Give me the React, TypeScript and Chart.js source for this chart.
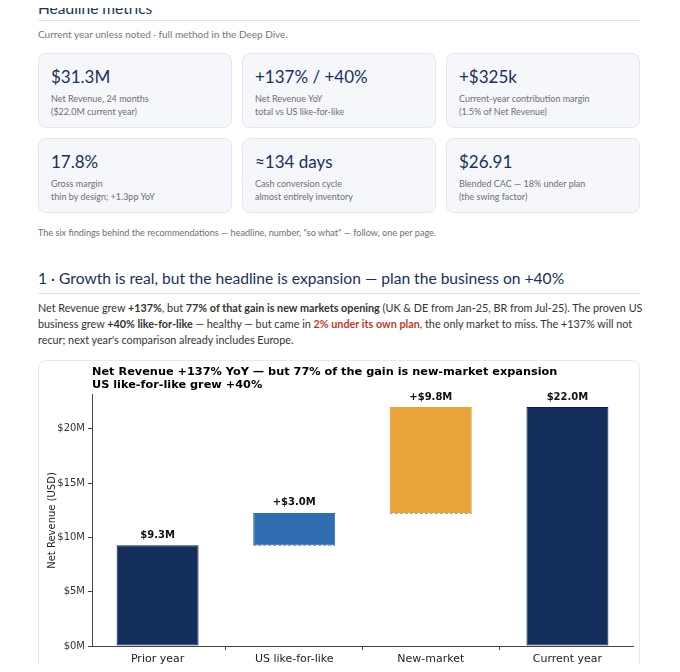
import React, { useEffect, useRef } from "react";
import { Chart, registerables } from "chart.js";

Chart.register(...registerables);

// ---- chart data ----
const categories: string[][] = [
  ["Prior year", "(all markets)"],
  ["US like-for-like", "growth"],
  ["New-market", "expansion"],
  ["Current year", "(all markets)"],
];
const priorYearRevenue = 9.27; // $M
const usLikeForLikeGain = 2.98; // $M
const newMarketGain = 9.75; // $M
const stepKinds = ["total", "delta", "delta", "total"];
const barColors = ["#132d5c", "#2d6db0", "#e8a33b", "#132d5c"];
const barBorders = ["#0c1f44", "#2d6db0", "#e8a33b", "#0c1f44"];
const yTickValues = [0, 5, 10, 15, 20];
const yAxisMax = 23.1;
const xAxisMin = -0.48;
const xAxisMax = 3.48;
const chartTitle = [
  "Net Revenue +137% YoY \u2014 but 77% of the gain is new-market expansion",
  "US like-for-like grew +40%",
];

// ---- headline metrics ----
const metricValues = ["$31.3M", "+137% / +40%", "+$325k", "17.8%", "\u2248134 days", "$26.91"];
const metricLine1 = [
  "Net Revenue, 24 months",
  "Net Revenue YoY",
  "Current-year contribution margin",
  "Gross margin",
  "Cash conversion cycle",
  "Blended CAC \u2014 18% under plan",
];
const metricLine2 = [
  "($22.0M current year)",
  "total vs US like-for-like",
  "(1.5% of Net Revenue)",
  "thin by design; +1.3pp YoY",
  "almost entirely inventory",
  "(the swing factor)",
];

const UI_FONT = 'Lato, "Noto Sans", sans-serif';
const MPL_FONT = '"DejaVu Sans", sans-serif';
const NAVY = "#1b2f5b";

function WaterfallChart() {
  const ref = useRef<HTMLCanvasElement | null>(null);
  useEffect(() => {
    if (!ref.current) return;
    const afterPrior = priorYearRevenue + usLikeForLikeGain;
    const total = afterPrior + newMarketGain;
    const steps = [
      { x: 0, y: [0, priorYearRevenue] },
      { x: 1, y: [priorYearRevenue, afterPrior] },
      { x: 2, y: [afterPrior, total] },
      { x: 3, y: [0, total] },
    ];
    const amounts = [priorYearRevenue, usLikeForLikeGain, newMarketGain, total];
    const labelText = amounts.map((v, i) =>
      (stepKinds[i] === "delta" ? "+" : "") + "$" + v.toFixed(1) + "M"
    );

    const overlay = {
      id: "waterfallOverlay",
      afterDatasetsDraw(chart: any) {
        const ctx = chart.ctx;
        const meta = chart.getDatasetMeta(0);
        ctx.save();
        meta.data.forEach((bar: any, i: number) => {
          const w = bar.width;
          if (stepKinds[i] === "delta") {
            ctx.strokeStyle = "#9aa3b5";
            ctx.lineWidth = 1;
            ctx.setLineDash([3, 2]);
            ctx.beginPath();
            ctx.moveTo(bar.x - w / 2, Math.round(bar.base) + 0.5);
            ctx.lineTo(bar.x + w / 2, Math.round(bar.base) + 0.5);
            ctx.stroke();
            ctx.setLineDash([]);
          }
          ctx.fillStyle = "#111";
          ctx.font = "bold 10px " + MPL_FONT;
          ctx.textAlign = "center";
          ctx.textBaseline = "middle";
          ctx.fillText(labelText[i], bar.x, bar.y - 10);
        });
        ctx.restore();
      },
    };

    const chart = new Chart(ref.current, {
      type: "bar",
      data: {
        datasets: [
          {
            data: steps as any,
            backgroundColor: barColors,
            borderColor: barBorders,
            borderWidth: 1,
            borderSkipped: false,
            categoryPercentage: 1,
            barPercentage: 0.6,
          },
        ],
      },
      options: {
        responsive: true,
        maintainAspectRatio: false,
        animation: false,
        layout: { padding: { left: 5, right: 6, top: 0, bottom: 0 } },
        plugins: {
          legend: { display: false },
          tooltip: { enabled: false },
          title: {
            display: true,
            text: chartTitle,
            align: "start",
            fullSize: false,
            color: "#000",
            font: { family: MPL_FONT, size: 11.3, weight: "bold", lineHeight: 1.15 },
            padding: { top: 5, bottom: 3 },
          },
        },
        scales: {
          x: {
            type: "linear",
            min: xAxisMin,
            max: xAxisMax,
            offset: false,
            grid: {
              display: true,
              drawOnChartArea: false,
              drawTicks: true,
              tickLength: 4,
              color: "#444",
            },
            border: { display: true, color: "#444", width: 1 },
            afterBuildTicks: (s: any) => {
              s.ticks = categories.map((_, i) => ({ value: i }));
            },
            ticks: {
              color: "#222",
              font: { family: MPL_FONT, size: 11, lineHeight: 1.2 },
              padding: 3,
              maxRotation: 0,
              autoSkip: false,
              callback: (v: any) => categories[Math.round(v)] || "",
            },
            afterFit: (s: any) => {
              s.height = 45;
            },
          },
          y: {
            min: 0,
            max: yAxisMax,
            grid: {
              display: true,
              drawOnChartArea: false,
              drawTicks: true,
              tickLength: 4,
              color: "#444",
            },
            border: { display: true, color: "#444", width: 1 },
            afterBuildTicks: (s: any) => {
              s.ticks = yTickValues.map((v) => ({ value: v }));
            },
            ticks: {
              color: "#333",
              font: { family: MPL_FONT, size: 10 },
              padding: 3,
              callback: (v: any) => "$" + v + "M",
            },
            title: {
              display: true,
              text: "Net Revenue (USD)",
              color: "#222",
              font: { family: MPL_FONT, size: 10 },
              padding: 2,
            },
            afterFit: (s: any) => {
              s.width = 48;
            },
          },
        },
      },
      plugins: [overlay],
    });
    return () => chart.destroy();
  }, []);
  return <canvas ref={ref} />;
}

function MetricCard({ i, left, top, width, height }: any) {
  return (
    <div
      style={{
        position: "absolute",
        left,
        top,
        width,
        height,
        boxSizing: "border-box",
        background: "#f5f7fb",
        border: "1px solid #e3e7ee",
        borderRadius: 8,
        fontFamily: UI_FONT,
      }}
    >
      <div style={{ position: "absolute", left: 12, top: 11, fontSize: 17, lineHeight: "24px", color: NAVY, whiteSpace: "nowrap" }}>
        {metricValues[i]}
      </div>
      <div style={{ position: "absolute", left: 12, top: 38, fontSize: 9, lineHeight: "13px", color: "#6f6f6f", whiteSpace: "nowrap" }}>
        {metricLine1[i]}
        <br />
        {metricLine2[i]}
      </div>
    </div>
  );
}

export default function App() {
  const colLeft = [38, 242, 446];
  const colW = 194;
  return (
    <div
      style={{
        position: "relative",
        width: 680,
        height: 672,
        margin: -8,
        overflow: "hidden",
        background: "#fff",
        fontFamily: UI_FONT,
      }}
    >
      <div style={{ position: "absolute", left: 38, top: -3, fontSize: 15.5, lineHeight: "22px", color: NAVY, whiteSpace: "nowrap" }}>
        Headline metrics
      </div>
      <div style={{ position: "absolute", left: 0, top: 0, width: 680, height: 1.5, background: "#cf97aa" }} />
      <div style={{ position: "absolute", left: 38, top: 20, width: 602, height: 1, background: "#dbe3ec" }} />
      <div style={{ position: "absolute", left: 38, top: 27, fontSize: 10, lineHeight: "14px", color: "#777", whiteSpace: "nowrap" }}>
        Current year unless noted · full method in the Deep Dive.
      </div>
      {[0, 1, 2].map((c) => (
        <MetricCard key={"a" + c} i={c} left={colLeft[c]} top={53} width={colW} height={75} />
      ))}
      {[0, 1, 2].map((c) => (
        <MetricCard key={"b" + c} i={c + 3} left={colLeft[c]} top={138} width={colW} height={75} />
      ))}
      <div style={{ position: "absolute", left: 38, top: 226, fontSize: 9.1, lineHeight: "14px", color: "#6f6f6f", whiteSpace: "nowrap" }}>
        The six findings behind the recommendations — headline, number, "so what" — follow, one per page.
      </div>
      <div style={{ position: "absolute", left: 38, top: 267, fontSize: 15.6, lineHeight: "22px", color: NAVY, whiteSpace: "nowrap" }}>
        1 · Growth is real, but the headline is expansion — plan the business on +40%
      </div>
      <div style={{ position: "absolute", left: 38, top: 293, width: 602, height: 1, background: "#dbe3ec" }} />
      <div style={{ position: "absolute", left: 38, top: 300, width: 610, fontSize: 10.8, lineHeight: "16px", color: "#333", whiteSpace: "nowrap" }}>
        Net Revenue grew <b>+137%</b>, but <b>77% of that gain is new markets opening</b> (UK &amp; DE from Jan-25, BR from Jul-25). The proven US
        <br />
        business grew <b>+40% like-for-like</b> — healthy — but came in{" "}
        <span style={{ color: "#c0392b", fontWeight: 700 }}>2% under its own plan</span>, the only market to miss. The +137% will not
        <br />
        recur; next year's comparison already includes Europe.
      </div>
      <div
        style={{
          position: "absolute",
          left: 38,
          top: 360,
          width: 602,
          height: 340,
          boxSizing: "border-box",
          border: "1px solid #e6e9ef",
          borderRadius: 8,
          background: "#fff",
        }}
      />
      <div style={{ position: "absolute", left: 39, top: 361, width: 600, height: 330 }}>
        <WaterfallChart />
      </div>
    </div>
  );
}
